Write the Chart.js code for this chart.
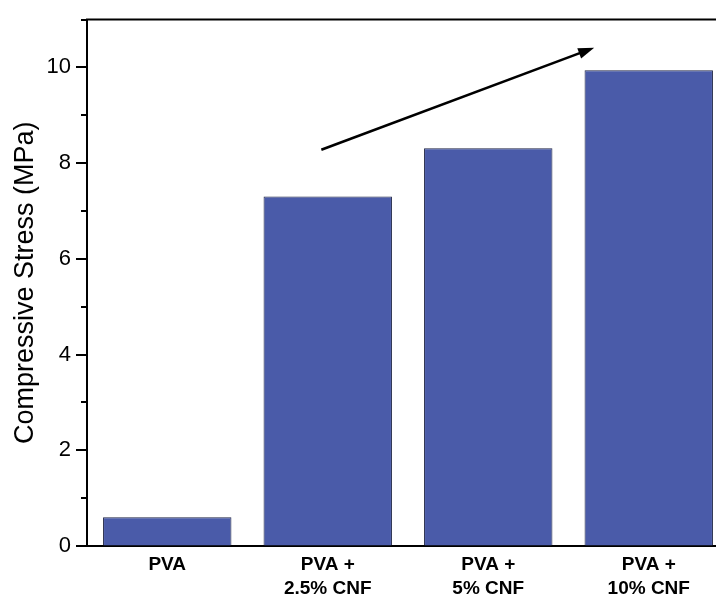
<!DOCTYPE html>
<html>
<head>
<meta charset="utf-8">
<script src="https://cdn.jsdelivr.net/npm/chart.js@4/dist/chart.umd.min.js"></script>
<style>
  html, body { margin: 0; padding: 0; background: #fff; overflow: hidden; }
  #wrap { width: 740px; height: 597px; }
</style>
</head>
<body>
<div id="wrap"><canvas id="c" width="740" height="597"></canvas></div>
<script>
// Sample groups and their compressive stress (MPa)
const categories = [['PVA'], ['PVA +', '2.5% CNF'], ['PVA +', '5% CNF'], ['PVA +', '10% CNF']];
const stress = [0.6, 7.3, 8.31, 9.94];

// Y axis range and labelled ticks
const yMin = 0;
const yMax = 11;
const yLabelled = [0, 2, 4, 6, 8, 10];

// Trend arrow, given in axis units (category index, MPa)
const arrowFrom = { x: 0.96, y: 8.28 };
const arrowTo = { x: 2.66, y: 10.41 };

const FONT = "'Liberation Sans', Arial, sans-serif";

// Tick marks (long at labelled values, short between), top frame line, trend arrow
const decorations = {
  id: 'decorations',
  afterDraw(chart) {
    const { ctx, chartArea, scales } = chart;
    const y = scales.y, x = scales.x;
    ctx.save();
    ctx.strokeStyle = '#000';
    ctx.lineWidth = 2;
    // frame line along the top
    ctx.beginPath();
    ctx.moveTo(chartArea.left - 1, chartArea.top);
    ctx.lineTo(chartArea.right, chartArea.top);
    ctx.stroke();
    // y ticks
    y.ticks.forEach(t => {
      const py = Math.round(y.getPixelForValue(t.value));
      const len = yLabelled.includes(t.value) ? 10 : 5;
      ctx.beginPath();
      ctx.moveTo(chartArea.left - 1 - len, py);
      ctx.lineTo(chartArea.left, py);
      ctx.stroke();
    });
    // trend arrow
    const x0 = x.getPixelForValue(arrowFrom.x), y0 = y.getPixelForValue(arrowFrom.y);
    const x1 = x.getPixelForValue(arrowTo.x), y1 = y.getPixelForValue(arrowTo.y);
    const ang = Math.atan2(y1 - y0, x1 - x0);
    const headLen = 16, headHalf = 5.5;
    const bx = x1 - headLen * Math.cos(ang), by = y1 - headLen * Math.sin(ang);
    ctx.lineWidth = 2.6;
    ctx.beginPath();
    ctx.moveTo(x0, y0);
    ctx.lineTo(bx + 2 * Math.cos(ang), by + 2 * Math.sin(ang));
    ctx.stroke();
    ctx.fillStyle = '#000';
    ctx.beginPath();
    ctx.moveTo(x1, y1);
    ctx.lineTo(bx + headHalf * Math.sin(ang), by - headHalf * Math.cos(ang));
    ctx.lineTo(bx - headHalf * Math.sin(ang), by + headHalf * Math.cos(ang));
    ctx.closePath();
    ctx.fill();
    ctx.restore();
  }
};

new Chart(document.getElementById('c'), {
  type: 'bar',
  data: {
    labels: categories,
    datasets: [{
      data: stress,
      backgroundColor: '#4a5ba9',
      borderColor: '#1f2545',
      borderWidth: 1,
      barPercentage: 0.8,
      categoryPercentage: 1.0
    }]
  },
  options: {
    responsive: false,
    animation: false,
    // the canvas is wider than the page, so the plot runs past the right edge
    layout: { padding: { left: 0, top: 19.5, right: 11, bottom: 0 } },
    plugins: { legend: { display: false }, tooltip: { enabled: false } },
    scales: {
      x: {
        afterFit(s) { s.height = 51; },
        grid: { display: false, drawTicks: false },
        border: { display: true, color: '#000', width: 2 },
        ticks: {
          color: '#000',
          padding: 7,
          maxRotation: 0,
          autoSkip: false,
          font: { family: FONT, size: 19, weight: 'bold', lineHeight: 1.25 }
        }
      },
      y: {
        min: yMin,
        max: yMax,
        afterFit(s) { s.width = 87; },
        grid: { display: true, drawOnChartArea: false, tickLength: 10, tickColor: 'rgba(0,0,0,0)' },
        border: { display: true, color: '#000', width: 2 },
        ticks: {
          stepSize: 1,
          color: '#000',
          padding: 6,
          font: { family: FONT, size: 22 },
          callback: v => (yLabelled.includes(v) ? String(v) : '')
        },
        title: {
          display: true,
          text: 'Compressive Stress (MPa)',
          color: '#000',
          padding: { top: 9, bottom: 0 },
          font: { family: FONT, size: 27 }
        }
      }
    }
  },
  plugins: [decorations]
});
</script>
</body>
</html>
